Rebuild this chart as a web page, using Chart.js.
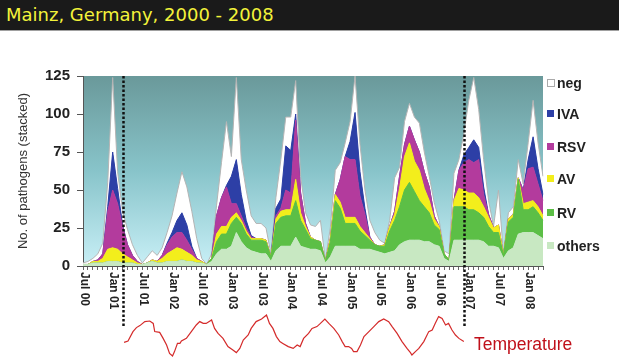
<!DOCTYPE html>
<html><head><meta charset="utf-8">
<script src="https://cdn.jsdelivr.net/npm/chart.js@4.4.1/dist/chart.umd.min.js"></script>
<style>
html,body{margin:0;padding:0;background:#fff;width:619px;height:364px;overflow:hidden;position:relative;}
#bar{position:absolute;left:0;top:0;width:619px;height:30px;background:#1a1a1a;border-bottom:1px solid #a0a0a0;}
#bar span{position:absolute;left:6px;top:4px;font:18px "DejaVu Sans",sans-serif;color:#f3f33a;white-space:nowrap;}
#main{position:absolute;left:0;top:0;}
#temp{position:absolute;left:83px;top:300px;}
#tlabel{position:absolute;left:474px;top:334px;font:17.5px "Liberation Sans",Arial,sans-serif;color:#c0101a;white-space:nowrap;}
.lgbox{position:absolute;left:547px;width:7px;height:7px;}
.lgtxt{position:absolute;left:557px;font:bold 14px "Liberation Sans",Arial,sans-serif;color:#222;white-space:nowrap;line-height:16px;}
</style></head>
<body>
<div id="bar"><span>Mainz, Germany, 2000 - 2008</span></div>
<canvas id="main" width="619" height="364"></canvas>
<canvas id="temp" width="460" height="60"></canvas>
<div id="tlabel">Temperature</div>
<div id="legend"></div>
<script>
// ---- categories: months Jul 2000 .. Apr 2008 ----
const startYear = 2000, startMonth = 6, monthCount = 94;
const monthNames = ['Jan','Feb','Mar','Apr','May','Jun','Jul','Aug','Sep','Oct','Nov','Dec'];
const categories = [];
for (let i = 0; i < monthCount; i++) {
  const mm = (startMonth + i) % 12, yy = startYear + Math.floor((startMonth + i) / 12);
  categories.push(monthNames[mm] + ' ' + String(yy % 100).padStart(2, '0'));
}
const tickLabels = ['Jul 00','Jan 01','Jul 01','Jan 02','Jul 02','Jan 03','Jul 03','Jan 04','Jul 04',
  'Jan 05','Jul 05','Jan 06','Jul 06','Jan 07','Jul 07','Jan 08'];

// ---- series (monthly, stacked) ----
const others = [1,1,2,2,2,3,3,3,2,2, 2,1,1,2,3,2,2,3,3,3, 4,3,3,2,2,1,3,8,11,11,
  13,22,16,12,10,9,8,8,3,10, 13,13,13,19,13,12,11,11,10,2, 6,13,13,13,13,13,11,11,11,10,
  9,8,9,10,14,16,17,17,17,16, 16,14,13,5,3,17,17,17,17,17, 17,16,13,13,12,5,10,12,21,22, 22,22,20,18];
const rv = [0,0,0,0,0,0,0,0,0,0, 0,0,0,0,0,0,0,0,0,0, 0,0,0,0,0,0,2,8,10,10,
  15,10,12,9,7,8,9,8,3,18, 19,20,20,24,17,12,7,6,6,1, 10,30,25,15,15,15,12,9,6,4,
  4,5,14,20,25,34,38,32,26,23, 19,13,11,3,1,22,22,22,20,20, 18,16,13,9,10,2,19,20,36,15, 15,17,15,12];
const av = [0,0,1,1,3,8,9,8,6,4, 2,1,0,0,1,1,3,5,7,9, 7,6,4,2,1,0,0,5,5,5,
  4,3,2,2,1,1,1,1,0,3, 4,4,4,14,5,2,1,0,0,0, 2,4,4,4,4,4,3,2,1,0,
  0,1,3,4,12,22,26,20,20,12, 8,4,2,0,0,4,12,11,11,11, 10,7,6,3,5,0,2,2,1,4, 5,4,4,3];
const rsv = [0,0,0,1,3,25,38,30,18,8, 3,1,0,0,0,0,2,6,9,10, 11,8,4,1,0,0,0,12,19,26,
  9,6,3,2,1,0,0,0,0,2, 2,13,11,39,13,2,0,0,0,0, 0,0,15,40,38,38,20,12,1,0,
  0,0,0,2,8,8,11,14,12,11, 9,2,0,0,0,0,12,18,22,20, 25,8,2,0,0,0,0,0,0,9, 22,22,15,10];
const iva = [0,0,0,0,0,3,25,10,1,0, 0,0,0,0,0,0,0,1,3,8, 13,10,2,0,0,0,0,0,0,1,
  18,29,14,5,1,0,0,0,0,5, 6,29,28,4,0,0,0,0,0,0, 0,0,0,0,12,31,16,4,0,0,
  0,0,0,0,0,0,0,0,0,0, 0,0,0,0,0,0,0,5,8,15, 8,5,0,0,0,0,0,0,0,0, 6,20,10,4];
const neg = [1,2,2,4,7,16,49,11,9,10, 7,4,1,4,6,4,5,7,11,18, 27,25,23,13,2,0,3,7,23,42,
  13,54,23,20,13,10,10,8,2,7, 26,19,22,22,11,7,8,9,14,1, 7,16,11,9,13,24,18,12,11,8,
  4,1,4,22,6,15,15,15,19,13, 7,9,4,2,4,18,7,14,31,41, 25,18,9,1,23,1,4,5,12,4, 11,24,17,12];

const seriesNames  = ['others','RV','AV','RSV','IVA','neg'];
const seriesValues = [others, rv, av, rsv, iva, neg];
const seriesColors = ['#c8e8c2','#5cbf46','#f3ee1c','#b33b9d','#2d3fa6','#ffffff'];

// ---- temperature (month index from Jul 2000, relative temperature) ----
const tempMonthIndex = [8.3,9.1,10.1,10.8,11.5,12.5,13.5,14.2,14.5,15.5,16.2,16.9,17.5,18.1,18.5,19.1,19.6,19.9,20.9,21.9,
  22.9,23.6,24.3,24.9,26.0,26.6,27.3,28.3,29.3,30.3,31.0,31.7,32.4,33.4,34.0,35.0,36.1,37.1,37.7,38.4,
  39.1,39.8,40.4,41.5,42.5,43.3,43.9,44.6,45.6,46.3,47.3,48.0,48.9,49.7,50.7,51.7,52.4,53.0,53.7,54.3,
  54.7,55.4,56.1,56.8,57.8,58.8,59.8,60.8,61.8,62.5,63.5,64.5,65.5,66.2,66.5,67.2,67.9,68.9,69.9,70.6,
  71.2,71.9,72.6,73.3,73.9,74.6,75.3,76.0,77.0];
const tempValue = [7.8,8.5,13.2,15.2,16.2,18.2,18.5,17.3,13.2,12.8,9.8,6.5,2.3,1.0,3.2,7.3,7.3,8.5,9.8,13.2,
  16.5,18.2,17.3,17.3,19.0,14.8,12.3,9.8,5.7,4.0,2.7,4.8,9.0,11.5,14.8,18.2,19.5,21.5,17.3,14.8,
  10.7,8.2,7.3,5.7,4.8,6.5,5.7,9.8,12.3,14.8,15.7,17.3,19.5,17.3,14.8,11.5,8.2,5.7,5.7,4.8,
  3.2,3.2,6.5,10.7,13.2,15.7,18.2,19.5,18.2,15.7,12.3,8.2,4.8,2.7,1.5,3.2,4.8,8.2,13.2,14.0,
  17.3,20.7,19.8,16.5,17.3,14.0,11.5,9.8,8.2];

// dotted separators (month index)
const separators = [8, 77];

// ---- legend (HTML) ----
const legendOrder = ['neg','IVA','RSV','AV','RV','others'];
const legendY = [83,114,147,179,213,246];
const lg = document.getElementById('legend');
legendOrder.forEach((name, k) => {
  const i = seriesNames.indexOf(name);
  const b = document.createElement('div');
  b.className = 'lgbox';
  b.style.top = (legendY[k] - 4) + 'px';
  b.style.background = seriesColors[i];
  if (name === 'neg') { b.style.border = '1px solid #aaa'; b.style.width = '6px'; b.style.height = '6px'; }
  lg.appendChild(b);
  const t = document.createElement('div');
  t.className = 'lgtxt';
  t.style.top = (legendY[k] - 8) + 'px';
  t.textContent = name;
  lg.appendChild(t);
});

// ---- plugins ----
const bgPlugin = {
  id: 'bg',
  beforeDraw(chart) {
    const {ctx, chartArea: a} = chart;
    const g = ctx.createLinearGradient(0, a.top, 0, a.bottom);
    g.addColorStop(0, '#6a999a');
    g.addColorStop(0.5, '#88c4ca');
    g.addColorStop(1, '#c8eff6');
    ctx.save(); ctx.fillStyle = g;
    ctx.fillRect(a.left, a.top, a.right - a.left, a.bottom - a.top);
    ctx.restore();
  }
};
const decoPlugin = {
  id: 'deco',
  afterDraw(chart) {
    const {ctx, chartArea: a} = chart;
    const xs = chart.scales.x;
    ctx.save();
    // rotated x tick labels
    ctx.font = 'bold 12px "Liberation Sans", Arial, sans-serif';
    ctx.fillStyle = '#222';
    ctx.textAlign = 'left';
    ctx.textBaseline = 'middle';
    tickLabels.forEach(lbl => {
      const idx = categories.indexOf(lbl);
      if (idx < 0) return;
      const x = xs.getPixelForValue(idx);
      ctx.save();
      ctx.translate(x + 1, a.bottom + 6);
      ctx.rotate(Math.PI / 2);
      ctx.fillText(lbl, 0, 0);
      ctx.restore();
    });
    // dotted separators
    ctx.strokeStyle = '#111';
    ctx.lineWidth = 2.5;
    ctx.setLineDash([2.5, 2]);
    separators.forEach(v => {
      const x = Math.round(xs.getPixelForValue(v)) + 0.5;
      ctx.beginPath(); ctx.moveTo(x, a.top); ctx.lineTo(x, 327); ctx.stroke();
    });
    ctx.restore();
  }
};

const datasets = seriesNames.map((name, i) => ({
  label: name,
  data: seriesValues[i],
  backgroundColor: seriesColors[i],
  borderColor: name === 'neg' ? '#b4b4b4' : seriesColors[i],
  borderWidth: 1,
  fill: i === 0 ? 'origin' : '-1',
  pointRadius: 0,
  tension: 0
}));

new Chart(document.getElementById('main'), {
  type: 'line',
  data: { labels: categories, datasets },
  options: {
    responsive: false, animation: false,
    layout: { padding: { left: 0, top: 76, right: 76, bottom: 0 } },
    plugins: { legend: { display: false }, tooltip: { enabled: false } },
    scales: {
      x: {
        type: 'category',
        grid: { display: true, drawOnChartArea: false, drawTicks: true, tickLength: 4, color: '#666' },
        border: { display: true, color: '#555', width: 1 },
        ticks: { display: false, autoSkip: false },
        afterFit(s) { s.height = 98; }
      },
      y: {
        stacked: true, min: 0, max: 125,
        ticks: { stepSize: 25, color: '#222', padding: 7, font: { family: '"Liberation Sans", Arial, sans-serif', size: 15, weight: 'bold' } },
        grid: { display: true, drawOnChartArea: false, drawTicks: true, tickLength: 6, color: '#555' },
        border: { display: true, color: '#555', width: 1 },
        title: { display: true, text: 'No. of pathogens (stacked)', color: '#333',
          font: { family: '"Liberation Sans", Arial, sans-serif', size: 13 }, padding: { top: 16, bottom: 0 } },
        afterFit(s) { s.width = 83; }
      }
    }
  },
  plugins: [bgPlugin, decoPlugin]
});

new Chart(document.getElementById('temp'), {
  type: 'line',
  data: { datasets: [{
    label: 'Temperature',
    data: tempMonthIndex.map((m, i) => ({ x: m, y: tempValue[i] })),
    borderColor: '#d42a2a', borderWidth: 1.2, pointRadius: 0, tension: 0, fill: false, clip: false
  }] },
  options: {
    responsive: false, animation: false,
    layout: { padding: 0 },
    plugins: { legend: { display: false }, tooltip: { enabled: false } },
    scales: {
      x: { type: 'linear', min: 0, max: 93, display: false },
      y: { min: -1, max: 29, display: false }
    }
  }
});
</script>
</body></html>
